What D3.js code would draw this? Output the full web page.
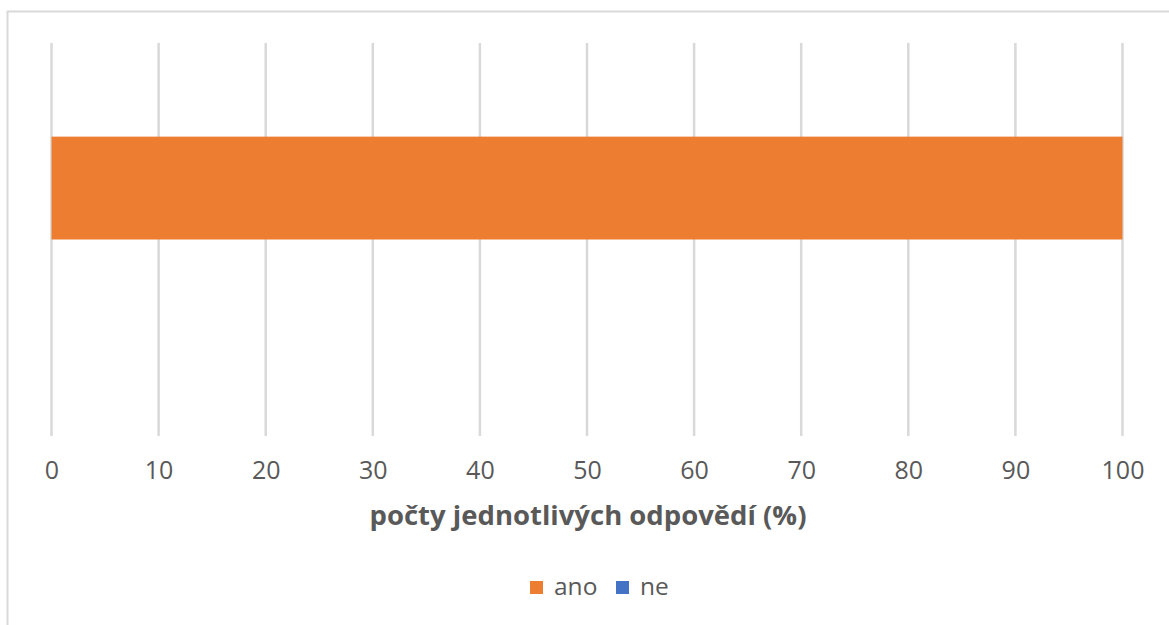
<!DOCTYPE html>
<html>
<head>
<meta charset="utf-8">
<script src="https://cdn.jsdelivr.net/npm/d3@7/dist/d3.min.js"></script>
<style>
  html, body { margin: 0; padding: 0; background: #fff; }
  svg { display: block; }
  text { font-family: "Open Sans", "DejaVu Sans", sans-serif; }
</style>
</head>
<body>
<svg id="chart" width="1169" height="625"></svg>
<script>
// Answers per question (percent)
const categories = ["otázka"];
const seriesNames = ["ano", "ne"];
const anoValues = [100];
const neValues = [0];
const tickValues = [0, 10, 20, 30, 40, 50, 60, 70, 80, 90, 100];
const colors = { ano: "#ED7D31", ne: "#4472C4" };

const svg = d3.select("#chart");

// chart frame
svg.append("rect")
  .attr("x", 7.5).attr("y", 11.5)
  .attr("width", 1200).attr("height", 700)
  .attr("fill", "#fff")
  .attr("stroke", "#d9d9d9").attr("stroke-width", 2);

const plot = { left: 51.5, right: 1122.5, top: 43, bottom: 436 };

const x = d3.scaleLinear().domain([0, 100]).range([plot.left, plot.right]);
const y = d3.scaleBand().domain(categories).range([plot.top, plot.bottom]);
// two bars per category: ano on top, ne below
const inner = d3.scaleBand().domain(seriesNames).range([0, y.bandwidth()]).paddingInner(0).paddingOuter(0.91);

// vertical gridlines
svg.append("g")
  .selectAll("line")
  .data(tickValues)
  .join("line")
  .attr("x1", d => x(d)).attr("x2", d => x(d))
  .attr("y1", plot.top).attr("y2", plot.bottom)
  .attr("stroke", "#d9d9d9").attr("stroke-width", 2.5);

const rows = categories.map((c, i) => [
  { cat: c, key: "ano", value: anoValues[i] },
  { cat: c, key: "ne", value: neValues[i] }
]).flat();

svg.append("g")
  .selectAll("rect")
  .data(rows)
  .join("rect")
  .attr("x", x(0))
  .attr("y", d => y(d.cat) + inner(d.key))
  .attr("width", d => x(d.value) - x(0))
  .attr("height", inner.bandwidth())
  .attr("fill", d => colors[d.key]);

// x axis labels
const axis = d3.axisBottom(x).tickValues(tickValues).tickSize(0).tickPadding(0);
const gx = svg.append("g").attr("transform", `translate(0, ${plot.bottom + 43})`).call(axis);
gx.select(".domain").remove();
gx.selectAll("text")
  .attr("dy", 0)
  .attr("fill", "#595959")
  .style("font-size", "25px")
  .style("font-family", "'Open Sans', 'DejaVu Sans', sans-serif");

// axis title
svg.append("text")
  .attr("x", (plot.left + plot.right) / 2 + 1)
  .attr("y", 525)
  .attr("text-anchor", "middle")
  .attr("fill", "#595959")
  .style("font-size", "27.5px")
  .style("font-weight", "bold")
  .text("počty jednotlivých odpovědí (%)");

// legend
const legend = svg.append("g").attr("transform", "translate(530, 581)");
const legendItems = [
  { key: "ano", x: 0 },
  { key: "ne", x: 86 }
];
legendItems.forEach(it => {
  legend.append("rect")
    .attr("x", it.x).attr("y", 0)
    .attr("width", 13).attr("height", 13)
    .attr("fill", colors[it.key]);
  legend.append("text")
    .attr("x", it.x + 24).attr("y", 14)
    .attr("fill", "#595959")
    .style("font-size", "24.5px")
    .text(it.key);
});
</script>
</body>
</html>
